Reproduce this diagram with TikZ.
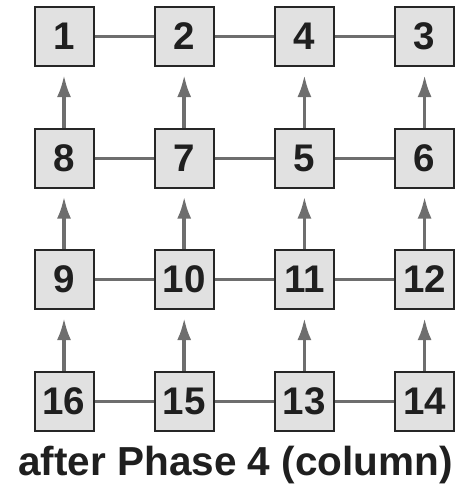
\documentclass[tikz,border=0pt]{standalone}
\usepackage{fontspec}
\setmainfont{Liberation Sans}
\usetikzlibrary{arrows.meta}
\definecolor{boxfill}{HTML}{E1E1E1}
\definecolor{linegray}{HTML}{6E6E6E}
\begin{document}
\begin{tikzpicture}[x=1pt,y=-1pt,
  cell/.style={draw=black!85,line width=2pt,fill=boxfill,minimum size=59pt,inner sep=0pt,
    font=\fontsize{38.5}{38.5}\selectfont\bfseries,text=black!88},
  link/.style={draw=linegray,line width=3pt},
  up/.style={draw=linegray,line width=3.5pt,-{Latex[length=22pt,width=14pt]},shorten >=8pt}]
\useasboundingbox (0,0) rectangle (463,485);
\foreach \n/\c/\r in {1/0/0,2/1/0,4/2/0,3/3/0,
                      8/0/1,7/1/1,5/2/1,6/3/1,
                      9/0/2,10/1/2,11/2/2,12/3/2,
                      16/0/3,15/1/3,13/2/3,14/3/3}{
  \node[cell] (n\n) at ({64+120.2*\c},{36.5+121.5*\r}) {\n};
}
\foreach \a/\b in {1/2,2/4,4/3,8/7,7/5,5/6,9/10,10/11,11/12,16/15,15/13,13/14}{
  \draw[link] (n\a) -- (n\b);
}
\foreach \a/\b in {8/1,7/2,5/4,6/3,9/8,10/7,11/5,12/6,16/9,15/10,13/11,14/12}{
  \draw[up] (n\a) -- (n\b);
}
\node[font=\fontsize{40.5}{40.5}\selectfont\bfseries,text=black!88,anchor=base] (cap) at (235.5,475) {after Phase 4 (column)};
\end{tikzpicture}
\end{document}
